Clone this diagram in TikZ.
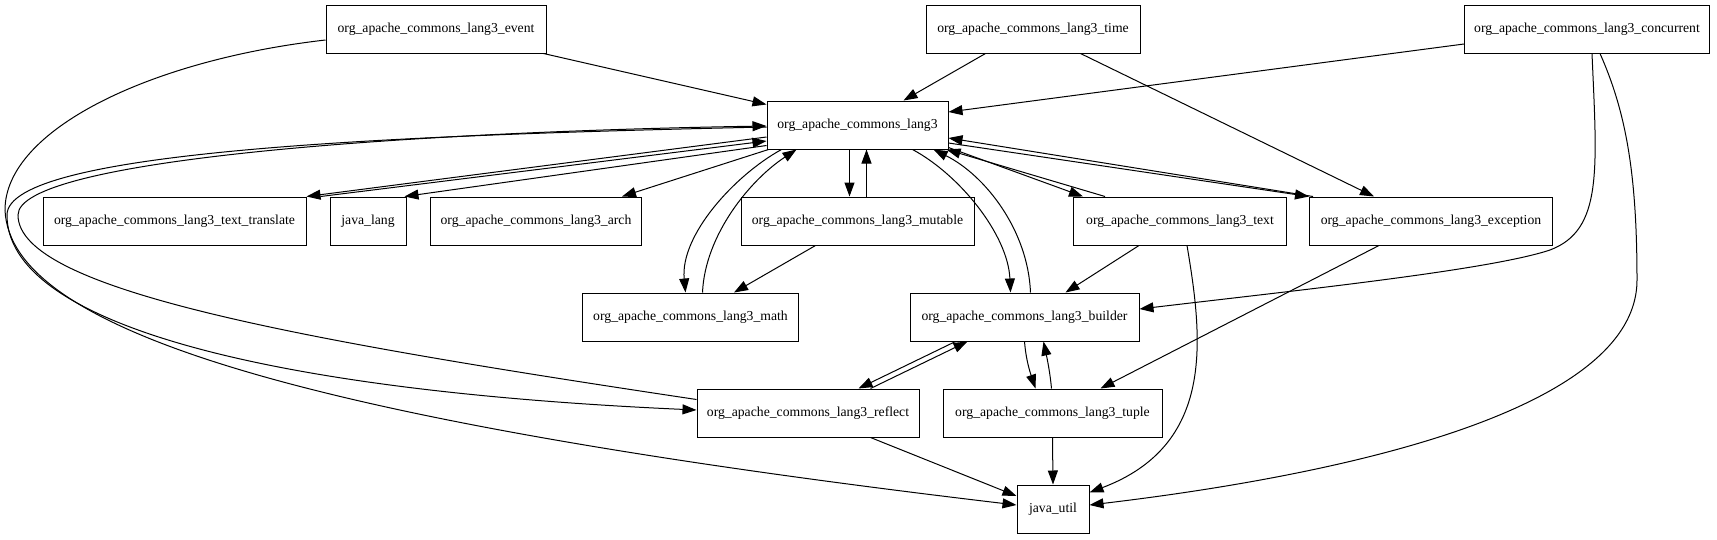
\documentclass[tikz,border=0pt]{standalone}
\usepackage{fontspec}
\setmainfont{Liberation Serif}
\usetikzlibrary{arrows.meta,calc}
\begin{document}
\begin{tikzpicture}[x=1pt,y=-1pt,
  pkg/.style={draw,line width=1pt,minimum height=48pt,inner sep=0pt,font=\fontsize{13.7}{16}\selectfont},
  dep/.style={line width=1pt,-{Triangle[length=14pt,width=10pt]}}]
\useasboundingbox (0,0) rectangle (1717,539);
\node[pkg,minimum width=220pt] (event) at (436,29) {org\_apache\_commons\_lang3\_event};
\node[pkg,minimum width=214pt] (time) at (1033,29) {org\_apache\_commons\_lang3\_time};
\node[pkg,minimum width=245pt] (conc) at (1587,29) {org\_apache\_commons\_lang3\_concurrent};
\node[pkg,minimum width=181pt] (lang3) at (857.5,125) {org\_apache\_commons\_lang3};
\node[pkg,minimum width=263pt] (tt) at (174.5,221) {org\_apache\_commons\_lang3\_text\_translate};
\node[pkg,minimum width=76pt] (jlang) at (368,221) {java\_lang};
\node[pkg,minimum width=211pt] (arch) at (536,221) {org\_apache\_commons\_lang3\_arch};
\node[pkg,minimum width=233pt] (mutable) at (857.5,221) {org\_apache\_commons\_lang3\_mutable};
\node[pkg,minimum width=213pt] (text) at (1180,221) {org\_apache\_commons\_lang3\_text};
\node[pkg,minimum width=243pt] (exc) at (1431,221) {org\_apache\_commons\_lang3\_exception};
\node[pkg,minimum width=216pt] (math) at (690.5,317) {org\_apache\_commons\_lang3\_math};
\node[pkg,minimum width=229pt] (builder) at (1024.5,317) {org\_apache\_commons\_lang3\_builder};
\node[pkg,minimum width=222pt] (reflect) at (808,413) {org\_apache\_commons\_lang3\_reflect};
\node[pkg,minimum width=219pt] (tuple) at (1052.5,413) {org\_apache\_commons\_lang3\_tuple};
\node[pkg,minimum width=72pt] (jutil) at (1053,509) {java\_util};
% top row
\draw[dep] ($(event.south east)+(-3,0)$) -- ($(lang3.north west)+(0,4)$);
\draw[dep] ($(event.west)+(0,11)$) .. controls (150,60) and (5,130) .. (5,210) .. controls (10,330) and (300,420) .. ($(jutil.west)+(0,-4)$);
\draw[dep] ($(time.south west)+(60,0)$) -- ($(lang3.north)+(46,0)$);
\draw[dep] ($(time.south west)+(155,0)$) -- ($(exc.north)+(-57,0)$);
\draw[dep] ($(conc.west)+(0,15)$) -- ($(lang3.east)+(0,-13)$);
\draw[dep] ($(conc.south)+(5,0)$) .. controls (1597,170) and (1603,230) .. (1550,250) .. controls (1490,270) and (1300,290) .. ($(builder.east)+(0,-8)$);
\draw[dep] ($(conc.south)+(13,0)$) .. controls (1625,110) and (1637,170) .. (1637,280) .. controls (1637,420) and (1300,480) .. ($(jutil.east)+(0,-4)$);
% lang3 and reflect
\draw[dep] ($(lang3.west)+(0,2)$) .. controls (400,135) and (7,150) .. (7,215) .. controls (7,320) and (250,390) .. ($(reflect.west)+(0,-3)$);
\draw[dep] ($(reflect.north west)+(0,11)$) .. controls (300,340) and (18,290) .. (18,215) .. controls (18,160) and (400,132) .. ($(lang3.west)+(0,1)$);
% lang3 and row 3
\draw[dep] ($(lang3.west)+(0,12)$) -- (tt.north east);
\draw[dep] ($(tt.north east)+(14,0)$) -- ($(lang3.west)+(0,16)$);
\draw[dep] ($(lang3.south west)+(0,-4)$) -- ($(jlang.north east)+(-2,0)$);
\draw[dep] ($(lang3.south west)+(2,0)$) -- ($(arch.north east)+(-20,0)$);
\draw[dep] ($(lang3.south)+(-8,0)$) -- ($(mutable.north)+(-8,0)$);
\draw[dep] ($(mutable.north)+(9,0)$) -- ($(lang3.south)+(9,0)$);
\draw[dep] ($(lang3.south east)+(0,-2)$) -- ($(text.north west)+(10,0)$);
\draw[dep] ($(text.north west)+(32,0)$) -- ($(lang3.south east)+(-2,0)$);
\draw[dep] ($(lang3.east)+(0,18)$) -- (exc.north west);
\draw[dep] ($(exc.north west)+(4,0)$) -- ($(lang3.east)+(0,13)$);
% lang3 and row 4
\draw[dep] ($(lang3.south west)+(15,0)$) .. controls (735,175) and (680,235) .. ($(math.north)+(-5,0)$);
\draw[dep] ($(math.north)+(12,0)$) .. controls (705,235) and (750,180) .. ($(lang3.south west)+(30,0)$);
\draw[dep] ($(lang3.south east)+(-36,0)$) .. controls (960,175) and (1008,235) .. ($(builder.north)+(-14,0)$);
\draw[dep] ($(builder.north)+(6,0)$) .. controls (1028,230) and (985,175) .. ($(lang3.south east)+(-15,0)$);
\draw[dep] ($(mutable.south)+(-42,0)$) -- ($(math.north east)+(-65,0)$);
\draw[dep] ($(text.south)+(-41,0)$) -- ($(builder.north east)+(-74,0)$);
\draw[dep] ($(text.south)+(7,0)$) .. controls (1203,340) and (1215,445) .. ($(jutil.north east)+(0,8)$);
\draw[dep] ($(exc.south)+(-52,0)$) -- ($(tuple.north east)+(-62,0)$);
% lower part
\draw[dep] ($(builder.south west)+(46,0)$) -- ($(reflect.north east)+(-61,0)$);
\draw[dep] ($(reflect.north east)+(-49,0)$) -- ($(builder.south west)+(58,0)$);
\draw[dep] (builder.south) .. controls (1026,360) and (1030,372) .. ($(tuple.north)+(-17,0)$);
\draw[dep] ($(tuple.north)+(-1,0)$) .. controls (1050,372) and (1047,358) .. ($(builder.south)+(19,0)$);
\draw[dep] (tuple.south) -- (jutil.north);
\draw[dep] ($(reflect.south east)+(-49,0)$) -- ($(jutil.west)+(0,-13)$);
\end{tikzpicture}
\end{document}
